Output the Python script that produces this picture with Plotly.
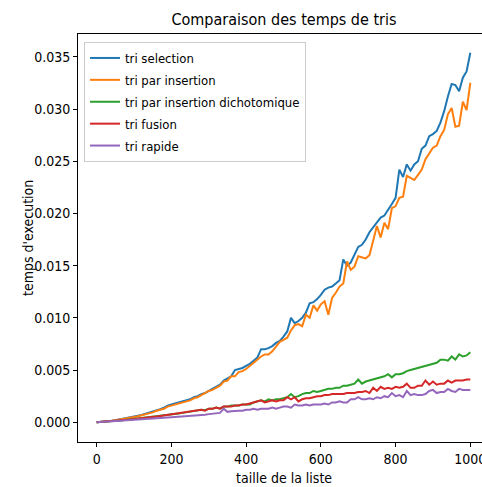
import plotly.graph_objects as go

tailles = list(range(0, 1001, 10))

tri_selection = [
    0.0, 0.00002, 0.00005, 0.0001, 0.00014, 0.0002, 0.00026, 0.00032, 0.0004, 0.00048,
    0.00055, 0.00062, 0.0007, 0.0008, 0.0009, 0.001, 0.0011, 0.00125, 0.0014, 0.0016,
    0.0017, 0.0018, 0.0019, 0.002, 0.0021, 0.0022, 0.0024, 0.0025, 0.0027, 0.0028,
    0.003, 0.0032, 0.0034, 0.0036, 0.0040, 0.0042, 0.0044, 0.0050, 0.0051, 0.0052,
    0.0054, 0.0056, 0.0059, 0.0062, 0.0070, 0.0070, 0.0071, 0.0073, 0.0076, 0.0078,
    0.0082, 0.0087, 0.0100, 0.0095, 0.0097, 0.0100, 0.0105, 0.0114, 0.0115, 0.0118,
    0.0122, 0.0127, 0.0129, 0.0130, 0.0133, 0.0136, 0.0156, 0.0150, 0.0153, 0.0161,
    0.0168, 0.0170, 0.0175, 0.0182, 0.0187, 0.0192, 0.0196, 0.0198, 0.0203, 0.0209,
    0.0215, 0.0242, 0.0235, 0.0247, 0.0241, 0.0247, 0.0250, 0.0262, 0.0265, 0.0274,
    0.0276, 0.0279, 0.0287, 0.0298, 0.0312, 0.0324, 0.0323, 0.0317, 0.0330, 0.0336,
    0.0354,
]

tri_insertion = [
    0.0, 0.00002, 0.00005, 0.0001, 0.00014, 0.00019, 0.00024, 0.0003, 0.00036, 0.00043,
    0.0005, 0.00058, 0.00066, 0.00075, 0.00085, 0.00095, 0.0011, 0.0012, 0.0013, 0.0015,
    0.0016, 0.0017, 0.0018, 0.0019, 0.002, 0.0021, 0.0023, 0.0024, 0.0026, 0.0028,
    0.003, 0.0031, 0.0033, 0.0035, 0.0039, 0.004, 0.0044, 0.0044, 0.0048, 0.0049,
    0.0051, 0.0054, 0.0057, 0.006, 0.0063, 0.0065, 0.0065, 0.0068, 0.0072, 0.0077,
    0.0079, 0.0081, 0.0088, 0.0093, 0.0094, 0.0092, 0.0103, 0.0100, 0.0112, 0.0107,
    0.0113, 0.0116, 0.0103, 0.0119, 0.0124, 0.0130, 0.0133, 0.0154, 0.0146, 0.0149,
    0.0159, 0.0158, 0.0157, 0.0160, 0.0173, 0.0188, 0.0177, 0.0191, 0.0185, 0.0205,
    0.0207, 0.0215, 0.0216, 0.0236, 0.0234, 0.0232, 0.0237, 0.0242, 0.0252, 0.0258,
    0.0263, 0.0265, 0.0274, 0.0280, 0.0295, 0.0301, 0.0283, 0.0284, 0.0307, 0.0299,
    0.0325,
]

tri_dichotomique = [
    0.0, 0.00002, 0.00004, 0.00007, 0.0001, 0.00013, 0.00016, 0.0002, 0.00024, 0.00028,
    0.00031, 0.00035, 0.00039, 0.00043, 0.00047, 0.0005, 0.00055, 0.0006, 0.00065, 0.0007,
    0.00075, 0.0008, 0.00085, 0.0009, 0.00095, 0.001, 0.00105, 0.0011, 0.0012, 0.00115,
    0.0013, 0.0013, 0.0014, 0.0013, 0.0015, 0.0015, 0.0016, 0.0016, 0.0016, 0.0017,
    0.0017, 0.0017, 0.0019, 0.002, 0.0021, 0.0020, 0.0022, 0.0021, 0.0022, 0.0022,
    0.0023, 0.0024, 0.0027, 0.0024, 0.0025, 0.0027, 0.0028, 0.0028, 0.003, 0.0029,
    0.003, 0.0031, 0.0032, 0.0032, 0.0033, 0.0033, 0.0035, 0.0035, 0.0036, 0.0037,
    0.0041, 0.0037, 0.0039, 0.004, 0.0041, 0.0042, 0.0043, 0.0044, 0.0046, 0.0043,
    0.0046, 0.0046, 0.0047, 0.0049, 0.005, 0.0051, 0.0052, 0.0053, 0.0054, 0.0055,
    0.0056, 0.0057, 0.006, 0.006, 0.0059, 0.0063, 0.006, 0.0065, 0.0063, 0.0064,
    0.0067,
]

tri_fusion = [
    0.0, 0.00002, 0.00004, 0.00007, 0.0001, 0.00013, 0.00016, 0.0002, 0.00023, 0.00027,
    0.0003, 0.00034, 0.00038, 0.00042, 0.00046, 0.0005, 0.00055, 0.0006, 0.00065, 0.0007,
    0.00075, 0.0008, 0.00085, 0.0009, 0.00095, 0.001, 0.0011, 0.0011, 0.0012, 0.0011,
    0.0013, 0.0013, 0.0014, 0.0013, 0.0015, 0.0015, 0.0015, 0.0016, 0.0016, 0.0017,
    0.0017, 0.0018, 0.0019, 0.0020, 0.0021, 0.0019, 0.0020, 0.0021, 0.0020, 0.0021,
    0.0021, 0.0024, 0.0022, 0.0024, 0.0020, 0.0022, 0.0023, 0.0023, 0.0024, 0.0025,
    0.0025, 0.0026, 0.0026, 0.0027, 0.0027, 0.0027, 0.0027, 0.0028, 0.0028, 0.0028,
    0.0029, 0.0029, 0.0030, 0.0028, 0.0033, 0.0030, 0.0034, 0.0032, 0.0033, 0.0032,
    0.0034, 0.0033, 0.0034, 0.0037, 0.0033, 0.0033, 0.0035, 0.0035, 0.0040, 0.0036,
    0.0039, 0.0036, 0.0037, 0.0037, 0.0040, 0.0038, 0.0040, 0.0040, 0.0040, 0.0041,
    0.0041,
]

tri_rapide = [
    0.0, 0.00002, 0.00004, 0.00006, 0.00009, 0.00011, 0.00013, 0.00016, 0.00018, 0.0002,
    0.00023, 0.00025, 0.00028, 0.0003, 0.00033, 0.00035, 0.00038, 0.0004, 0.00043, 0.00045,
    0.00048, 0.0005, 0.00052, 0.00055, 0.00058, 0.0006, 0.00063, 0.00066, 0.0007, 0.00072,
    0.00078, 0.0008, 0.00085, 0.0009, 0.0013, 0.001, 0.00105, 0.0011, 0.0011, 0.0011,
    0.0012, 0.0012, 0.0013, 0.0012, 0.0013, 0.0013, 0.0013, 0.0014, 0.0013, 0.0014,
    0.0015, 0.0015, 0.0014, 0.0017, 0.0016, 0.0016, 0.0017, 0.0016, 0.0017, 0.0017,
    0.0017, 0.0018, 0.0017, 0.0019, 0.0019, 0.002, 0.0019, 0.0019, 0.0022, 0.0022,
    0.0024, 0.0022, 0.0022, 0.0023, 0.0022, 0.0024, 0.0023, 0.0025, 0.0024, 0.0028,
    0.0025, 0.0026, 0.0024, 0.003, 0.0026, 0.0027, 0.0026, 0.0026, 0.0027, 0.003,
    0.0031, 0.0028, 0.0029, 0.0029, 0.0032, 0.0030, 0.0029, 0.0032, 0.0031, 0.0031,
    0.0031,
]

noms = ["tri selection", "tri par insertion", "tri par insertion dichotomique",
        "tri fusion", "tri rapide"]
series = [tri_selection, tri_insertion, tri_dichotomique, tri_fusion, tri_rapide]
couleurs = ["#1f77b4", "#ff7f0e", "#2ca02c", "#d62728", "#9467bd"]

FONT = "DejaVu Sans Condensed, DejaVu Sans, sans-serif"
# the figure is a little wider than the window: its right edge is cropped, as in the reference
W, H = 490, 487
L, R, T, B = 78, 1, 34, 45
PW, PH = W - L - R, H - T - B

fig = go.Figure()
for i, (nom, ys, c) in enumerate(zip(noms, series, couleurs)):
    fig.add_trace(go.Scatter(x=tailles, y=ys, mode="lines", name=nom,
                             legendgroup=f"g{i}",
                             line=dict(color=c, width=2)))

fig.update_layout(
    width=W, height=H,
    margin=dict(l=L, r=R, t=T, b=B, autoexpand=False),
    paper_bgcolor="white", plot_bgcolor="white",
    font=dict(family=FONT, size=13, color="black"),
    title=dict(text="Comparaison des temps de tris", x=284 / W,
               xanchor="center", xref="container",
               y=1 - 19 / H, yanchor="middle", yref="container",
               automargin=False,
               font=dict(family=FONT, size=16, color="black")),
    showlegend=True,
    legend=dict(x=(84 - L) / PW, y=1 - (42 - T) / PH, xanchor="left", yanchor="top",
                bgcolor="rgba(255,255,255,0.8)", bordercolor="#cccccc",
                borderwidth=1, tracegroupgap=2,
                font=dict(family=FONT, size=13, color="black")),
    xaxis=dict(range=[-50, 1050], tickvals=[0, 200, 400, 600, 800, 1000],
               ticks="outside", ticklen=4, tickcolor="black",
               showline=True, linecolor="black", linewidth=1, mirror=True,
               showgrid=False, zeroline=False, automargin=False,
               tickfont=dict(family=FONT, size=14)),
    yaxis=dict(range=[-0.00189, 0.03719],
               tickvals=[0, 0.005, 0.01, 0.015, 0.02, 0.025, 0.03, 0.035],
               tickformat=".3f",
               ticks="outside", ticklen=4, tickcolor="black",
               showline=True, linecolor="black", linewidth=1, mirror=True,
               showgrid=False, zeroline=False, automargin=False,
               tickfont=dict(family=FONT, size=14)),
    annotations=[
        dict(text="taille de la liste", xref="paper", yref="paper",
             x=(284 - L) / PW, y=-(478 - (H - B)) / PH,
             xanchor="center", yanchor="middle", showarrow=False,
             font=dict(family=FONT, size=14, color="black")),
        dict(text="temps d'execution", xref="paper", yref="paper",
             x=-(L - 28) / PW, y=0.5, textangle=-90,
             xanchor="center", yanchor="middle", showarrow=False,
             font=dict(family=FONT, size=14, color="black")),
    ],
)

fig.write_html(
    "out.html",
    config={"displayModeBar": False},
    post_script="document.body.style.margin='0';document.body.style.overflow='hidden';",
)
